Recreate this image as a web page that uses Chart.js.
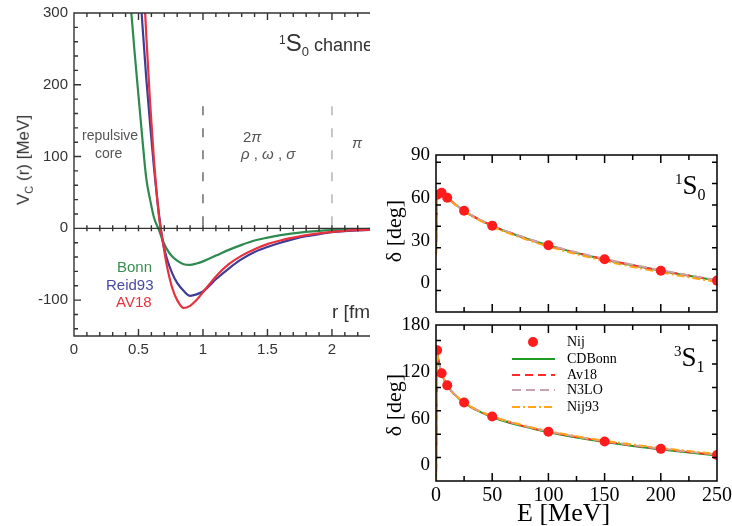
<!DOCTYPE html>
<html lang="en">
<head>
<meta charset="UTF-8">
<title>NN potential and phase shifts</title>
<script src="https://cdn.jsdelivr.net/npm/chart.js"></script>
<style>
    body {
        margin: 0;
        width: 732px;
        height: 526px;
        position: relative;
        overflow: hidden;
        background: #fff;
    }
    canvas { position: absolute; }
    #leftBox {
        position: absolute;
        left: 0; top: 0;
        width: 370px; height: 365px;
        overflow: hidden;
    }
    .note {
        position: absolute;
        white-space: nowrap;
        font-family: "Liberation Sans", Arial, sans-serif;
        color: #444;
        line-height: 1;
    }
    .serif {
        position: absolute;
        white-space: nowrap;
        font-family: "Liberation Serif", "Times New Roman", serif;
        color: #000;
        line-height: 1;
    }
    .rot { transform: translate(-50%, -50%) rotate(-90deg); }
    .legend-row { position: absolute; left: 510px; height: 16px; }
    .legend-row svg { position: absolute; left: 0; top: 0; }
    .legend-row span { position: absolute; left: 57px; top: 1px; font-size: 14px; }
</style>
</head>
<body>
    <div id="leftBox">
        <canvas id="potChart" width="370" height="365" style="left:0;top:0"></canvas>
        <div class="note" style="left:82px;top:128px;font-size:14px;color:#555">repulsive</div>
        <div class="note" style="left:95px;top:146px;font-size:14px;color:#555">core</div>
        <div class="note" style="left:243px;top:129px;font-size:15px;color:#555">2<i>π</i></div>
        <div class="note" style="left:241px;top:146px;font-size:15px;color:#555"><i>ρ</i> , <i>ω</i> , <i>σ</i></div>
        <div class="note" style="left:352px;top:135px;font-size:15px;color:#555"><i>π</i></div>
        <div class="note" style="left:279px;top:31px;font-size:18px;color:#333"><sup style="font-size:12px">1</sup><span style="font-size:24px">S</span><sub style="font-size:13px">0</sub> channel</div>
        <div class="note" style="left:332px;top:302px;font-size:19px;color:#333">r [fm]</div>
        <div class="note" style="left:117px;top:259px;font-size:15px;color:#3b8c52">Bonn</div>
        <div class="note" style="left:106px;top:277px;font-size:15px;color:#4a4aa2">Reid93</div>
        <div class="note" style="left:116px;top:294px;font-size:15px;color:#e4343f">AV18</div>
        <div class="note rot" style="left:25px;top:160px;font-size:17px;color:#333">V<sub style="font-size:11px">C</sub> (r) [MeV]</div>
    </div>

    <canvas id="s0Chart" width="352" height="180" style="left:380px;top:140px"></canvas>
    <canvas id="s1Chart" width="352" height="216" style="left:380px;top:310px"></canvas>

    <div class="serif rot" style="left:394px;top:231px;font-size:22px">δ [deg]</div>
    <div class="serif rot" style="left:394px;top:405px;font-size:22px">δ [deg]</div>
    <div class="serif" style="left:517px;top:500px;font-size:26px">E [MeV]</div>
    <div class="serif" style="left:675px;top:172px;font-size:27px"><sup style="font-size:15px">1</sup>S<sub style="font-size:16px">0</sub></div>
    <div class="serif" style="left:674px;top:344px;font-size:27px"><sup style="font-size:15px">3</sup>S<sub style="font-size:16px">1</sub></div>
    <div id="legend"></div>

<script>
    // ---- left panel: central potential in the 1S0 channel
    const rGrid = [0.42, 0.44, 0.47, 0.5, 0.53, 0.56, 0.59, 0.62, 0.66, 0.69, 0.72, 0.76, 0.8, 0.85, 0.9, 0.95,
                   1.0, 1.05, 1.1, 1.2, 1.3, 1.4, 1.5, 1.6, 1.7, 1.8, 1.9, 2.0, 2.1, 2.2, 2.3];
    const vBonn = [360, 310, 245, 185, 125, 70, 40, 15, -3, -18, -29, -39, -45, -50, -51, -49,
                   -46, -42, -38, -30, -23, -17, -13, -9.5, -7, -5, -3.5, -2.5, -1.8, -1.2, -0.8];
    const vReid93 = [700, 600, 480, 370, 285, 210, 145, 85, 18, -20, -42, -62, -76, -87, -94, -92,
                     -88, -80, -71, -56, -43, -33, -26, -20, -15, -11, -8, -5.5, -4, -3, -2];
    const vAV18 = [900, 800, 650, 500, 380, 270, 175, 95, 15, -20, -52, -82, -100, -111, -108, -100,
                   -89, -78, -67, -50, -38, -29, -22, -17, -13, -9.5, -7, -5, -3.5, -2.5, -1.8];
    const rRegions = [1, 2];          // dashed separators
    const regionTop = 170;
    const rTicks = [0, 0.5, 1, 1.5, 2];
    const vTicks = [-100, 0, 100, 200, 300];

    // ---- right panels: phase shifts
    const eNij = [1, 5, 10, 25, 50, 100, 150, 200, 250];
    const nij1S0 = [62.1, 63.6, 60.0, 50.9, 40.5, 26.8, 16.9, 8.9, 2.0];
    const nij3S1 = [147.7, 118.2, 102.6, 80.6, 62.8, 43.2, 30.7, 21.2, 13.4];

    const eModel = [0, 1.2, 2, 5, 10, 25, 50, 75, 100, 125, 150, 175, 200, 225, 250];
    const cdb1S0   = [20, 63, 64.5, 63.6, 60.0, 50.9, 40.4, 32.9, 26.7, 21.4, 16.8, 12.7, 8.9, 5.4, 2.0];
    const av18_1S0 = [20, 63, 64.5, 63.6, 60.0, 50.9, 40.5, 33.0, 26.8, 21.5, 16.9, 12.8, 9.0, 5.5, 2.1];
    const n3lo1S0  = [20, 63, 64.6, 63.7, 60.1, 51.0, 40.7, 33.2, 27.0, 21.8, 17.2, 13.1, 9.3, 5.7, 2.3];
    const nij93_1S0 = [20, 63, 64.6, 63.5, 59.8, 50.5, 39.8, 32.2, 25.9, 20.5, 15.8, 11.6, 7.8, 4.3, 1.0];

    const cdb3S1   = [-25, 142, 136.0, 118.0, 102.4, 80.3, 62.0, 51.0, 42.5, 35.8, 30.0, 25.0, 20.5, 16.5, 12.8];
    const av18_3S1 = [-25, 142, 136.4, 118.2, 102.6, 80.6, 62.6, 51.6, 43.1, 36.4, 30.6, 25.6, 21.1, 17.1, 13.4];
    const n3lo3S1  = [-25, 142, 136.4, 118.2, 102.6, 80.7, 62.9, 51.9, 43.5, 36.8, 31.0, 26.0, 21.5, 17.5, 13.8];
    const nij93_3S1 = [-25, 142, 136.5, 118.3, 102.8, 81.0, 63.3, 52.4, 44.0, 37.4, 31.7, 26.7, 22.3, 18.4, 14.8];

    const eTicks = [0, 50, 100, 150, 200, 250];
    const d0Ticks = [0, 30, 60, 90];
    const d1Ticks = [0, 60, 120, 180];

    const models = [
        { label: 'CDBonn', color: '#1f9a24', dash: [] },
        { label: 'Av18', color: '#ff2b2b', dash: [8, 5] },
        { label: 'N3LO', color: '#c8a2ac', dash: [9, 5] },
        { label: 'Nij93', color: '#ffa41c', dash: [8, 3, 2, 3] }
    ];
    const nijColor = '#ff1c1c';

    const xy = (xs, ys) => xs.map((x, i) => ({ x: x, y: ys[i] }));
    const isMajor = (v, m) => Math.abs(v / m - Math.round(v / m)) < 1e-6;

    // inward ticks and frame, drawn from the scales
    const frameTicks = {
        id: 'frameTicks',
        afterDatasetsDraw(chart, args, o) {
            const { ctx, chartArea: a, scales: { x, y } } = chart;
            ctx.save();
            ctx.strokeStyle = o.color;
            ctx.lineWidth = o.width;
            ctx.beginPath();
            if (o.full) {
                ctx.rect(a.left, a.top, a.right - a.left, a.bottom - a.top);
            } else {
                ctx.moveTo(a.right, a.top); ctx.lineTo(a.left, a.top);
                ctx.lineTo(a.left, a.bottom); ctx.lineTo(a.right, a.bottom);
            }
            const zy = y.getPixelForValue(0);
            if (o.zero) { ctx.moveTo(a.left, zy); ctx.lineTo(a.right, zy); }
            for (let i = 0; ; i++) {
                const v = o.x.from + i * o.x.step;
                if (v > o.x.to + 1e-9) break;
                const px = x.getPixelForValue(v);
                if (px > a.right + 0.5) break;
                const len = isMajor(v, o.x.major) ? o.major : o.minor;
                ctx.moveTo(px, a.bottom); ctx.lineTo(px, a.bottom - len);
                ctx.moveTo(px, a.top); ctx.lineTo(px, a.top + len);
                if (o.zero) { ctx.moveTo(px, zy - 3); ctx.lineTo(px, zy + 3); }
            }
            for (let i = 0; ; i++) {
                const v = o.y.from + i * o.y.step;
                if (v > o.y.to + 1e-9) break;
                const py = y.getPixelForValue(v);
                const len = isMajor(v, o.y.major) ? o.major : o.minor;
                ctx.moveTo(a.left, py); ctx.lineTo(a.left + len, py);
                if (o.full) { ctx.moveTo(a.right, py); ctx.lineTo(a.right - len, py); }
            }
            ctx.stroke();
            ctx.restore();
        }
    };

    const fixedTicks = list => s => { s.ticks = list.map(v => ({ value: v })); };
    // fix the axis box size and drop the label overflow padding
    const fixSize = (w, h) => s => {
        if (w !== null) s.width = w;
        if (h !== null) s.height = h;
        s.paddingTop = 0; s.paddingBottom = 0; s.paddingLeft = 0; s.paddingRight = 0;
    };

    // ---- left chart
    const potColors = { bonn: '#2e8a4e', reid: '#3d3d98', av18: '#e8303f' };
    new Chart(document.getElementById('potChart'), {
        type: 'line',
        data: {
            datasets: [
                { label: 'AV18', data: xy(rGrid, vAV18), borderColor: potColors.av18 },
                { label: 'Reid93', data: xy(rGrid, vReid93), borderColor: potColors.reid },
                { label: 'Bonn', data: xy(rGrid, vBonn), borderColor: potColors.bonn },
                { label: 'sep1', data: [{ x: rRegions[0], y: regionTop }, { x: rRegions[0], y: 0 }],
                  borderColor: '#555', borderWidth: 1.3, borderDash: [9, 13], cubicInterpolationMode: 'default', tension: 0 },
                { label: 'sep2', data: [{ x: rRegions[1], y: regionTop }, { x: rRegions[1], y: 0 }],
                  borderColor: '#aaa', borderWidth: 1.3, borderDash: [9, 13], cubicInterpolationMode: 'default', tension: 0 }
            ]
        },
        options: {
            responsive: false,
            animation: false,
            devicePixelRatio: 1,
            layout: { padding: { top: 13, right: 0, left: 0, bottom: 0 } },
            elements: {
                point: { radius: 0 },
                line: { borderWidth: 2.2, cubicInterpolationMode: 'monotone' }
            },
            plugins: {
                legend: { display: false },
                tooltip: { enabled: false },
                frameTicks: {
                    color: '#333', width: 1.4, major: 7, minor: 4, full: false, zero: true,
                    x: { from: 0, to: 2.3, step: 0.1, major: 0.5 },
                    y: { from: -140, to: 300, step: 20, major: 100 }
                }
            },
            scales: {
                x: {
                    type: 'linear', min: 0, max: 2.295,
                    grid: { display: false, drawTicks: false },
                    border: { display: false },
                    afterBuildTicks: fixedTicks(rTicks),
                    afterFit: fixSize(null, 29),
                    ticks: {
                        padding: 5, maxRotation: 0, autoSkip: false, color: '#333',
                        font: { family: '"Liberation Sans", Arial, sans-serif', size: 15 },
                        callback: v => String(v)
                    }
                },
                y: {
                    min: -150, max: 300,
                    grid: { display: false, drawTicks: false },
                    border: { display: false },
                    afterBuildTicks: fixedTicks(vTicks),
                    afterFit: fixSize(74, null),
                    ticks: {
                        padding: 6, color: '#333',
                        font: { family: '"Liberation Sans", Arial, sans-serif', size: 15 },
                        callback: v => String(v)
                    }
                }
            }
        },
        plugins: [frameTicks]
    });

    // ---- right charts
    function phaseChart(id, nij, lines, yMin, yMax, yLabels, yStep, yMajor, showX) {
        const datasets = models.map((m, i) => ({
            label: m.label, data: xy(eModel, lines[i]),
            borderColor: m.color, borderDash: m.dash, borderWidth: 2
        }));
        datasets.push({
            label: 'Nij', data: xy(eNij, nij), showLine: false,
            pointRadius: 5, pointBackgroundColor: nijColor, pointBorderColor: nijColor, pointBorderWidth: 0
        });
        const serif = '"Liberation Serif", "Times New Roman", serif';
        return new Chart(document.getElementById(id), {
            type: 'line',
            data: { datasets: datasets.reverse() },
            options: {
                responsive: false,
                animation: false,
                devicePixelRatio: 1,
                layout: { padding: { top: 15, right: 15, left: 0, bottom: 0 } },
                elements: {
                    point: { radius: 0 },
                    line: { cubicInterpolationMode: 'monotone' }
                },
                plugins: {
                    legend: { display: false },
                    tooltip: { enabled: false },
                    frameTicks: {
                        color: '#000', width: 1.5, major: 8, minor: 5, full: true, zero: false,
                        x: { from: 0, to: 250, step: 25, major: 50 },
                        y: { from: yMin, to: yMax, step: yStep, major: yMajor }
                    }
                },
                scales: {
                    x: {
                        type: 'linear', min: 0, max: 250,
                        grid: { display: false, drawTicks: false },
                        border: { display: false },
                        afterBuildTicks: fixedTicks(eTicks),
                        afterFit: fixSize(null, showX ? 45 : 8),
                        ticks: {
                            display: showX, padding: 3, maxRotation: 0, autoSkip: false, color: '#000',
                            font: { family: serif, size: 20 }
                        }
                    },
                    y: {
                        min: yMin, max: yMax,
                        grid: { display: false, drawTicks: false },
                        border: { display: false },
                        afterBuildTicks: fixedTicks(yLabels),
                        afterFit: fixSize(56, null),
                        ticks: {
                            padding: 6, color: '#000',
                            font: { family: serif, size: 19 }
                        }
                    }
                }
            },
            plugins: [frameTicks]
        });
    }

    phaseChart('s0Chart', nij1S0, [cdb1S0, av18_1S0, n3lo1S0, nij93_1S0], -20, 90, d0Ticks, 15, 30, false);
    phaseChart('s1Chart', nij3S1, [cdb3S1, av18_3S1, n3lo3S1, nij93_3S1], -20, 180, d1Ticks, 30, 60, true);

    // ---- legend of the 3S1 panel
    const legend = document.getElementById('legend');
    const rowTops = [334, 351, 367, 382, 399];
    let html = '<div class="legend-row serif" style="top:' + rowTops[0] + 'px;width:100px">' +
        '<svg width="50" height="16"><circle cx="23" cy="8" r="5" fill="' + nijColor + '"/></svg>' +
        '<span>Nij</span></div>';
    models.forEach((m, i) => {
        html += '<div class="legend-row serif" style="top:' + rowTops[i + 1] + 'px;width:120px">' +
            '<svg width="50" height="16"><line x1="2" y1="8" x2="45" y2="8" stroke="' + m.color +
            '" stroke-width="2.2" stroke-dasharray="' + (m.dash.length ? m.dash.join(',') : 'none') + '"/></svg>' +
            '<span>' + m.label + '</span></div>';
    });
    legend.innerHTML = html;
</script>
</body>
</html>
